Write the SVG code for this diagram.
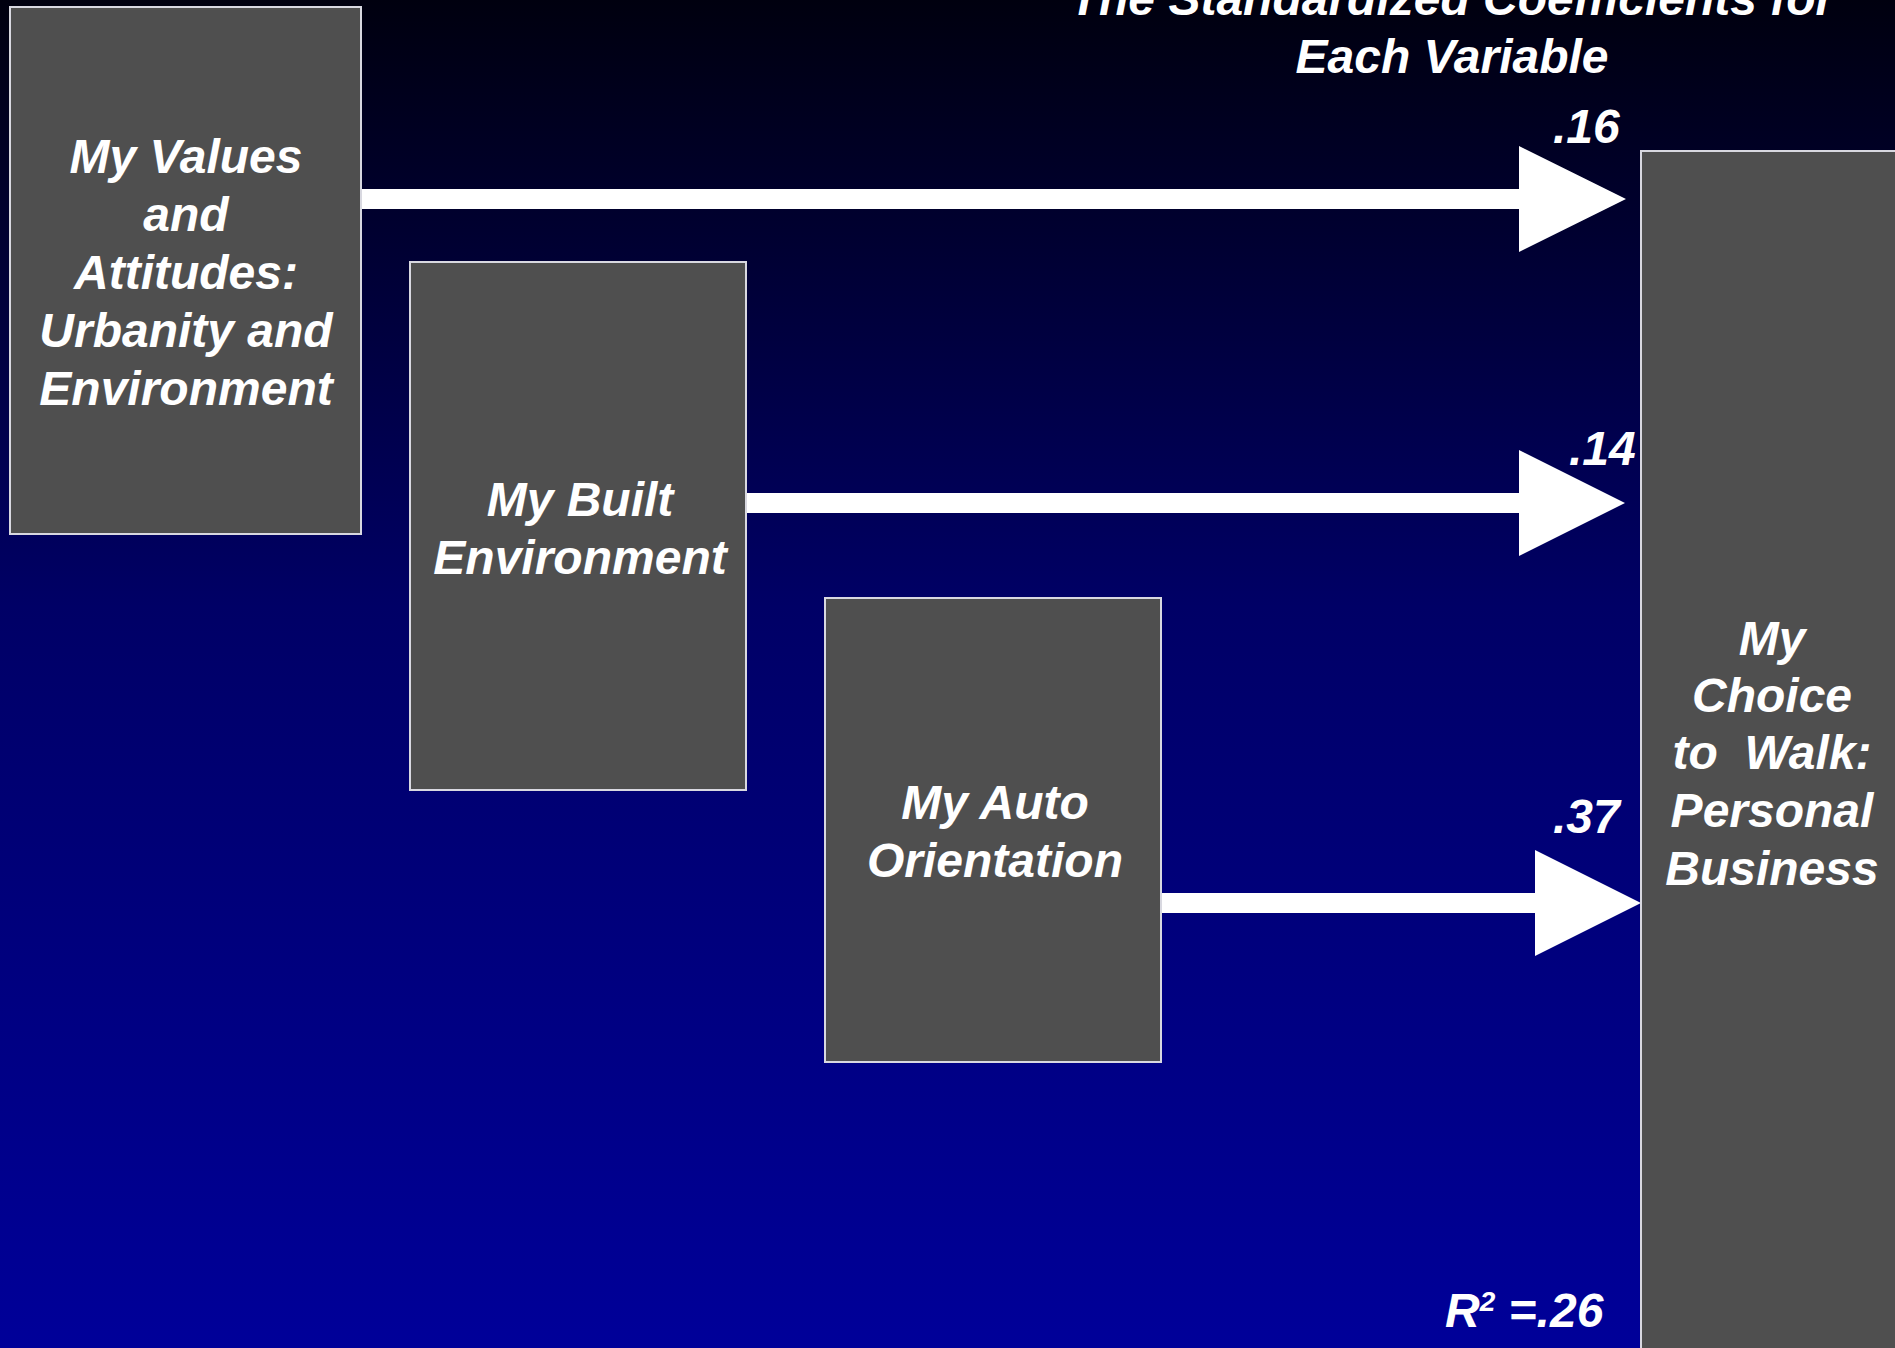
<svg xmlns="http://www.w3.org/2000/svg" width="1895" height="1348" viewBox="0 0 1895 1348">
  <defs>
    <linearGradient id="bg" x1="0" y1="0" x2="0" y2="1">
      <stop offset="0" stop-color="#00000f"/>
      <stop offset="0.45" stop-color="#000066"/>
      <stop offset="1" stop-color="#000099"/>
    </linearGradient>
  </defs>
  <style>
    .box { fill: #4f4f4f; stroke: #d8d8e0; stroke-width: 2; }
    .lbl { font-family: "Liberation Sans", Arial, sans-serif; font-weight: bold; font-style: italic; font-size: 48px; fill: #ffffff; }
    .mid { text-anchor: middle; }
    .arrow { fill: #ffffff; }
  </style>

  <rect x="0" y="0" width="1895" height="1348" fill="url(#bg)"/>

  <!-- heading -->
  <g id="title">
    <text class="lbl mid" x="1452" y="15">The Standardized Coefficients for</text>
    <text class="lbl mid" x="1452" y="73">Each Variable</text>
  </g>

  <!-- connectors: thick block arrows with coefficient labels -->
  <g id="connectors">
    <polygon class="arrow" points="361,189 1519,189 1519,146 1626,199 1519,252 1519,209 361,209"/>
    <polygon class="arrow" points="746,493 1519,493 1519,450 1625,503 1519,556 1519,513 746,513"/>
    <polygon class="arrow" points="1161,893 1535,893 1535,850 1641,903 1535,956 1535,913 1161,913"/>
    <text class="lbl" x="1553" y="143">.16</text>
    <text class="lbl" x="1569" y="465">.14</text>
    <text class="lbl" x="1553" y="833">.37</text>
  </g>

  <g id="values">
    <rect class="box" x="10" y="7" width="351" height="527"/>
    <text class="lbl mid" x="186" y="173">My Values</text>
    <text class="lbl mid" x="186" y="231">and</text>
    <text class="lbl mid" x="186" y="289">Attitudes:</text>
    <text class="lbl mid" x="186" y="347">Urbanity and</text>
    <text class="lbl mid" x="186" y="405">Environment</text>
  </g>

  <g id="built">
    <rect class="box" x="410" y="262" width="336" height="528"/>
    <text class="lbl mid" x="580" y="516">My Built</text>
    <text class="lbl mid" x="580" y="574">Environment</text>
  </g>

  <g id="auto">
    <rect class="box" x="825" y="598" width="336" height="464"/>
    <text class="lbl mid" x="995" y="819">My Auto</text>
    <text class="lbl mid" x="995" y="877">Orientation</text>
  </g>

  <g id="walk">
    <rect class="box" x="1641" y="151" width="266" height="1210"/>
    <text class="lbl mid" x="1772" y="655">My</text>
    <text class="lbl mid" x="1772" y="712">Choice</text>
    <text class="lbl mid" x="1772" y="769" xml:space="preserve" style="white-space:pre">to  Walk:</text>
    <text class="lbl mid" x="1772" y="827">Personal</text>
    <text class="lbl mid" x="1772" y="885">Business</text>
  </g>

  <g id="fit">
    <text class="lbl" x="1445" y="1327">R<tspan font-size="28" dy="-16">2</tspan><tspan dy="16"> =.26</tspan></text>
  </g>
</svg>
